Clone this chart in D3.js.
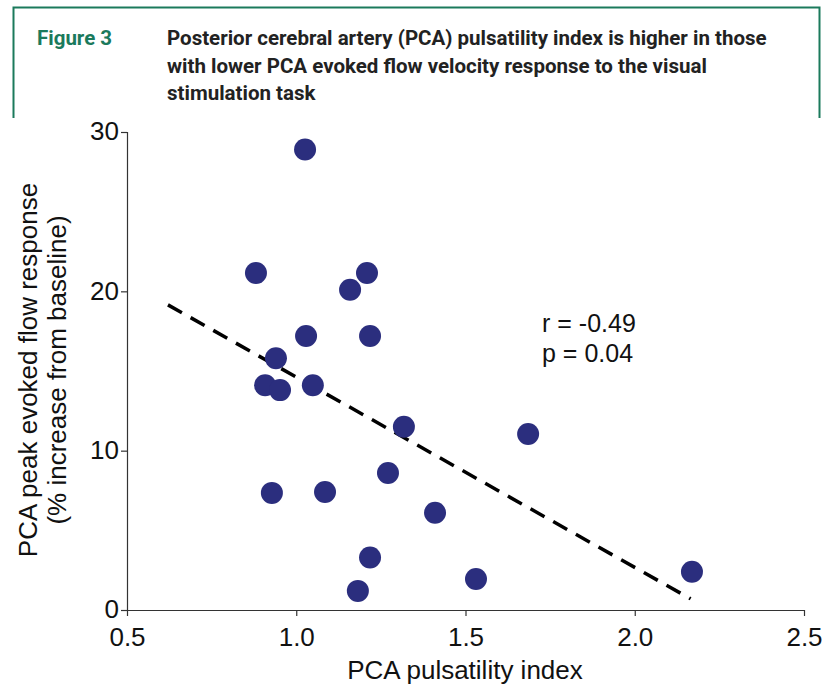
<!DOCTYPE html>
<html>
<head>
<meta charset="utf-8">
<script src="https://cdn.jsdelivr.net/npm/d3@7"></script>
<style>
  body { margin: 0; background: #fff; }
  svg { display: block; }
</style>
</head>
<body>
<div id="chart"></div>
<script>
// values
var pulsatility = [1.026, 0.881, 1.209, 1.159, 1.029, 1.218, 0.940, 0.908, 0.952, 1.049,
                   1.318, 1.685, 1.271, 0.928, 1.085, 1.410, 1.218, 1.531, 1.182, 2.169];
var flowResponse = [28.9, 21.15, 21.15, 20.1, 17.2, 17.2, 15.8, 14.1, 13.8, 14.1,
                    11.5, 11.05, 8.6, 7.35, 7.4, 6.1, 3.3, 1.95, 1.2, 2.4];
var fitX = [0.621, 2.165];
var fitY = [19.15, 0.7];
var xTicks = [0.5, 1.0, 1.5, 2.0, 2.5];
var yTicks = [0, 10, 20, 30];
var titleLines = ["Posterior cerebral artery (PCA) pulsatility index is higher in those",
                  "with lower PCA evoked flow velocity response to the visual",
                  "stimulation task"];

var W = 822, H = 687;
var green = "#1b7a5c";
var svg = d3.select("#chart").append("svg")
    .attr("width", W)
    .attr("height", H);

// header box
svg.append("path")
    .attr("d", "M 13.5 118 L 13.5 7.5 L 819.5 7.5 L 819.5 118")
    .attr("fill", "none")
    .attr("stroke", green)
    .attr("stroke-width", 2);
svg.append("text")
    .attr("x", 37).attr("y", 45)
    .attr("fill", green)
    .style("font-family", "Roboto, sans-serif")
    .style("font-weight", "bold")
    .style("font-size", "20.5px")
    .text("Figure 3");
titleLines.forEach(function (t, i) {
    svg.append("text")
        .attr("x", 167).attr("y", 45 + i * 27.5)
        .attr("fill", "#222")
        .style("font-family", "Roboto, sans-serif")
        .style("font-weight", "bold")
        .style("font-size", "20.5px")
        .text(t);
});

var x = d3.scaleLinear().domain([0.5, 2.5]).range([127, 804]);
var y = d3.scaleLinear().domain([0, 30]).range([610, 132]);
var font = "'Liberation Sans', Arial, sans-serif";

var xAxis = svg.append("g")
    .attr("transform", "translate(0," + 610 + ")")
    .call(d3.axisBottom(x).tickValues(xTicks).tickFormat(d3.format(".1f")).tickSizeOuter(0).tickSize(6));
var yAxis = svg.append("g")
    .attr("transform", "translate(" + 127 + ",0)")
    .call(d3.axisLeft(y).tickValues(yTicks).tickSizeOuter(0).tickSize(6));
[xAxis, yAxis].forEach(function (a) {
    a.attr("font-size", null).attr("font-family", null);
    a.selectAll("path, line").attr("stroke", "#333").attr("stroke-width", 1.2);
    a.selectAll("text").attr("fill", "#111")
        .style("font-family", font).style("font-size", "26px");
});
xAxis.select(".domain").attr("d", "M127,0.5H804");
xAxis.selectAll("text").attr("y", 15).attr("dy", "0.8em");
yAxis.selectAll("text").attr("x", -8).attr("dy", "0.3em");

// regression line
svg.append("line")
    .attr("x1", x(fitX[0])).attr("y1", y(fitY[0]))
    .attr("x2", x(fitX[1])).attr("y2", y(fitY[1]))
    .attr("stroke", "#000")
    .attr("stroke-width", 3.5)
    .attr("stroke-dasharray", "16,10");

// points
svg.append("g").selectAll("circle")
    .data(pulsatility)
    .enter().append("circle")
    .attr("cx", function (d) { return x(d); })
    .attr("cy", function (d, i) { return y(flowResponse[i]); })
    .attr("r", 11)
    .attr("fill", "#2b2e7e");

// stats
["r = -0.49", "p = 0.04"].forEach(function (t, i) {
    svg.append("text")
        .attr("x", 542).attr("y", 332 + i * 30)
        .attr("fill", "#111")
        .style("font-family", font).style("font-size", "25px")
        .text(t);
});

// axis titles
svg.append("text")
    .attr("x", 465).attr("y", 679)
    .attr("text-anchor", "middle")
    .attr("fill", "#111")
    .style("font-family", font).style("font-size", "26px")
    .text("PCA pulsatility index");
var yl = svg.append("g").attr("transform", "translate(0,370) rotate(-90)");
yl.append("text")
    .attr("x", 0).attr("y", 37)
    .attr("text-anchor", "middle")
    .attr("fill", "#111")
    .style("font-family", font).style("font-size", "26px")
    .text("PCA peak evoked flow response");
yl.append("text")
    .attr("x", 0).attr("y", 66)
    .attr("text-anchor", "middle")
    .attr("fill", "#111")
    .style("font-family", font).style("font-size", "26px")
    .text("(% increase from baseline)");
</script>
</body>
</html>
